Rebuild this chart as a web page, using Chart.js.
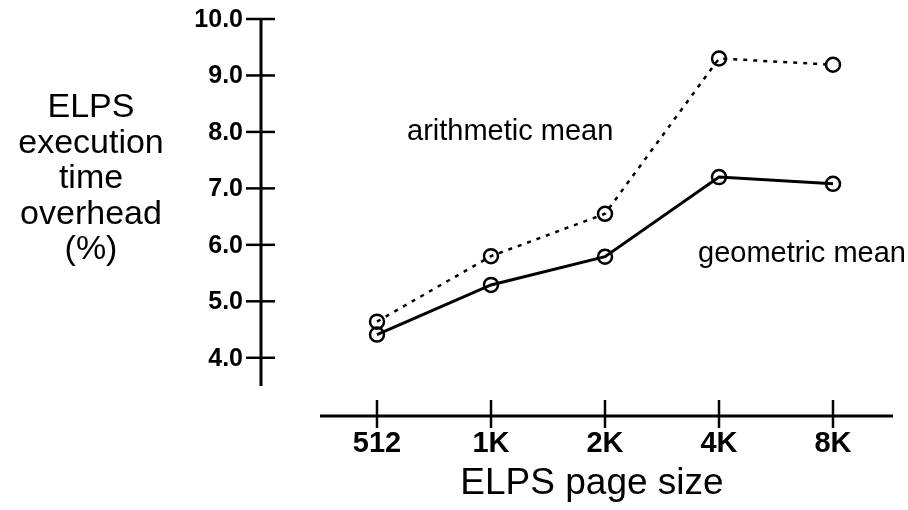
<!DOCTYPE html>
<html>
<head>
<meta charset="utf-8">
<script src="https://cdn.jsdelivr.net/npm/chart.js@4.4.1/dist/chart.umd.min.js"></script>
<style>
  html, body { margin: 0; padding: 0; background: #fff; }
  canvas { display: block; }
</style>
</head>
<body>
<canvas id="elpsChart" width="908" height="510"></canvas>
<script>
// page sizes along the bottom
const pageSizes = ["512", "1K", "2K", "4K", "8K"];
// overhead in percent
const arithmeticMean = [4.64, 5.80, 6.55, 9.30, 9.19];
const geometricMean = [4.41, 5.29, 5.79, 7.20, 7.08];
const yTicks = [4, 5, 6, 7, 8, 9, 10];
const yTitleLines = ["ELPS", "execution", "time", "overhead", "(%)"];
const xTitle = "ELPS page size";

const FONT = "'Liberation Sans', Arial, Helvetica, sans-serif";

// detached axes with crossing ticks, tick labels and the free text
const paperAxes = {
    id: "paperAxes",
    afterDraw(chart) {
        const ctx = chart.ctx;
        const x = chart.scales.x;
        const y = chart.scales.y;
        const area = chart.chartArea;
        ctx.save();
        ctx.strokeStyle = "#000";
        ctx.fillStyle = "#000";

        // y axis
        const ax = area.left - 59;
        ctx.lineWidth = 3;
        ctx.beginPath();
        ctx.moveTo(ax, y.getPixelForValue(10) - 1);
        ctx.lineTo(ax, y.getPixelForValue(3.5));
        ctx.stroke();
        ctx.lineWidth = 2.5;
        ctx.textAlign = "right";
        ctx.textBaseline = "middle";
        ctx.font = "bold 25px " + FONT;
        yTicks.forEach(v => {
            const py = y.getPixelForValue(v);
            ctx.beginPath();
            ctx.moveTo(ax - 15, py);
            ctx.lineTo(ax + 14, py);
            ctx.stroke();
            ctx.fillText(v.toFixed(1), ax - 18, py + 1);
        });

        // x axis
        const ay = area.bottom + 30;
        ctx.lineWidth = 3;
        ctx.beginPath();
        ctx.moveTo(area.left, ay);
        ctx.lineTo(area.right + 3, ay);
        ctx.stroke();
        ctx.lineWidth = 2.5;
        ctx.textAlign = "center";
        ctx.textBaseline = "alphabetic";
        ctx.font = "bold 29px " + FONT;
        pageSizes.forEach((s, i) => {
            const px = x.getPixelForValue(i);
            ctx.beginPath();
            ctx.moveTo(px, ay - 16);
            ctx.lineTo(px, ay + 12);
            ctx.stroke();
            ctx.fillText(s, px, ay + 36);
        });

        // y title, stacked horizontally
        ctx.font = "34px " + FONT;
        yTitleLines.forEach((t, i) => {
            ctx.fillText(t, 91, 117 + i * 35.5);
        });

        // x title
        ctx.font = "37px " + FONT;
        ctx.fillText(xTitle, 592, 494);

        // series labels
        ctx.textAlign = "left";
        ctx.font = "29px " + FONT;
        ctx.fillText("arithmetic mean", 407, 140);
        ctx.fillText("geometric mean", 698, 262);
        ctx.restore();
    }
};

new Chart(document.getElementById("elpsChart"), {
    type: "line",
    data: {
        labels: pageSizes,
        datasets: [{
            label: "arithmetic mean",
            data: arithmeticMean,
            borderColor: "#000",
            borderWidth: 2.5,
            borderDash: [4, 6],
            pointRadius: 7,
            pointBorderWidth: 2.5,
            pointBorderColor: "#000",
            pointBackgroundColor: "rgba(0,0,0,0)",
            tension: 0
        }, {
            label: "geometric mean",
            data: geometricMean,
            borderColor: "#000",
            borderWidth: 3,
            pointRadius: 7,
            pointBorderWidth: 2.5,
            pointBorderColor: "#000",
            pointBackgroundColor: "rgba(0,0,0,0)",
            tension: 0
        }]
    },
    options: {
        responsive: false,
        animation: false,
        devicePixelRatio: 1,
        layout: { padding: { top: 19, right: 18, left: 320, bottom: 124 } },
        plugins: {
            legend: { display: false },
            tooltip: { enabled: false }
        },
        scales: {
            x: { type: "category", offset: true, display: false },
            y: { min: 3.5, max: 10, display: false }
        }
    },
    plugins: [paperAxes]
});
</script>
</body>
</html>
